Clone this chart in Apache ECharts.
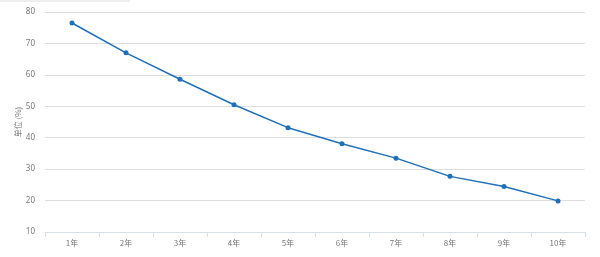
<!DOCTYPE html>
<html><head><meta charset="utf-8">
<script src="https://cdn.jsdelivr.net/npm/echarts@6/dist/echarts.min.js"></script>
<style>html,body{margin:0;padding:0;background:#fff}#c{width:600px;height:257px}</style>
</head><body><div id="c"></div>
<script>
var categories = ['1年','2年','3年','4年','5年','6年','7年','8年','9年','10年'];
var values = [76.5, 67.0, 58.6, 50.5, 43.2, 38.1, 33.5, 27.7, 24.5, 19.9];
var yTicks = {min: 10, max: 80, interval: 10};
var yName = '单位 (%)';

var chart = echarts.init(document.getElementById('c'));
chart.setOption({
  animation: false,
  graphic: [{type:'rect', shape:{x:0,y:0,width:130,height:2}, style:{fill:'#eeeeee'}}],
  grid: {left: 45, right: 15, top: 12, bottom: 25, containLabel: false, outerBoundsMode: 'none'},
  xAxis: {
    type: 'category', data: categories, boundaryGap: true,
    axisLine: {lineStyle: {color: '#d5e0ea'}},
    axisTick: {show: true, length: 5, lineStyle: {color: '#d5e0ea'}},
    axisLabel: {color: '#777', fontSize: 8, margin: 7, fontFamily: 'Noto Sans CJK SC'}
  },
  yAxis: {
    type: 'value', min: yTicks.min, max: yTicks.max, interval: yTicks.interval,
    name: yName, nameLocation: 'middle', nameGap: 23, nameRotate: 90, nameMoveOverlap: false,
    nameTextStyle: {color: '#777', fontSize: 8, fontFamily: 'Noto Sans CJK SC'},
    axisLine: {show: false}, axisTick: {show: false},
    axisLabel: {color: '#777', fontSize: 8, margin: 10, fontFamily: 'Noto Sans'},
    splitLine: {lineStyle: {color: '#dddddd', width: 1}}
  },
  series: [{
    type: 'line', data: values, symbol: 'circle', symbolSize: 5,
    itemStyle: {color: '#1f6fba'},
    lineStyle: {color: '#1f6fba', width: 1.5}
  }]
});
</script></body></html>
